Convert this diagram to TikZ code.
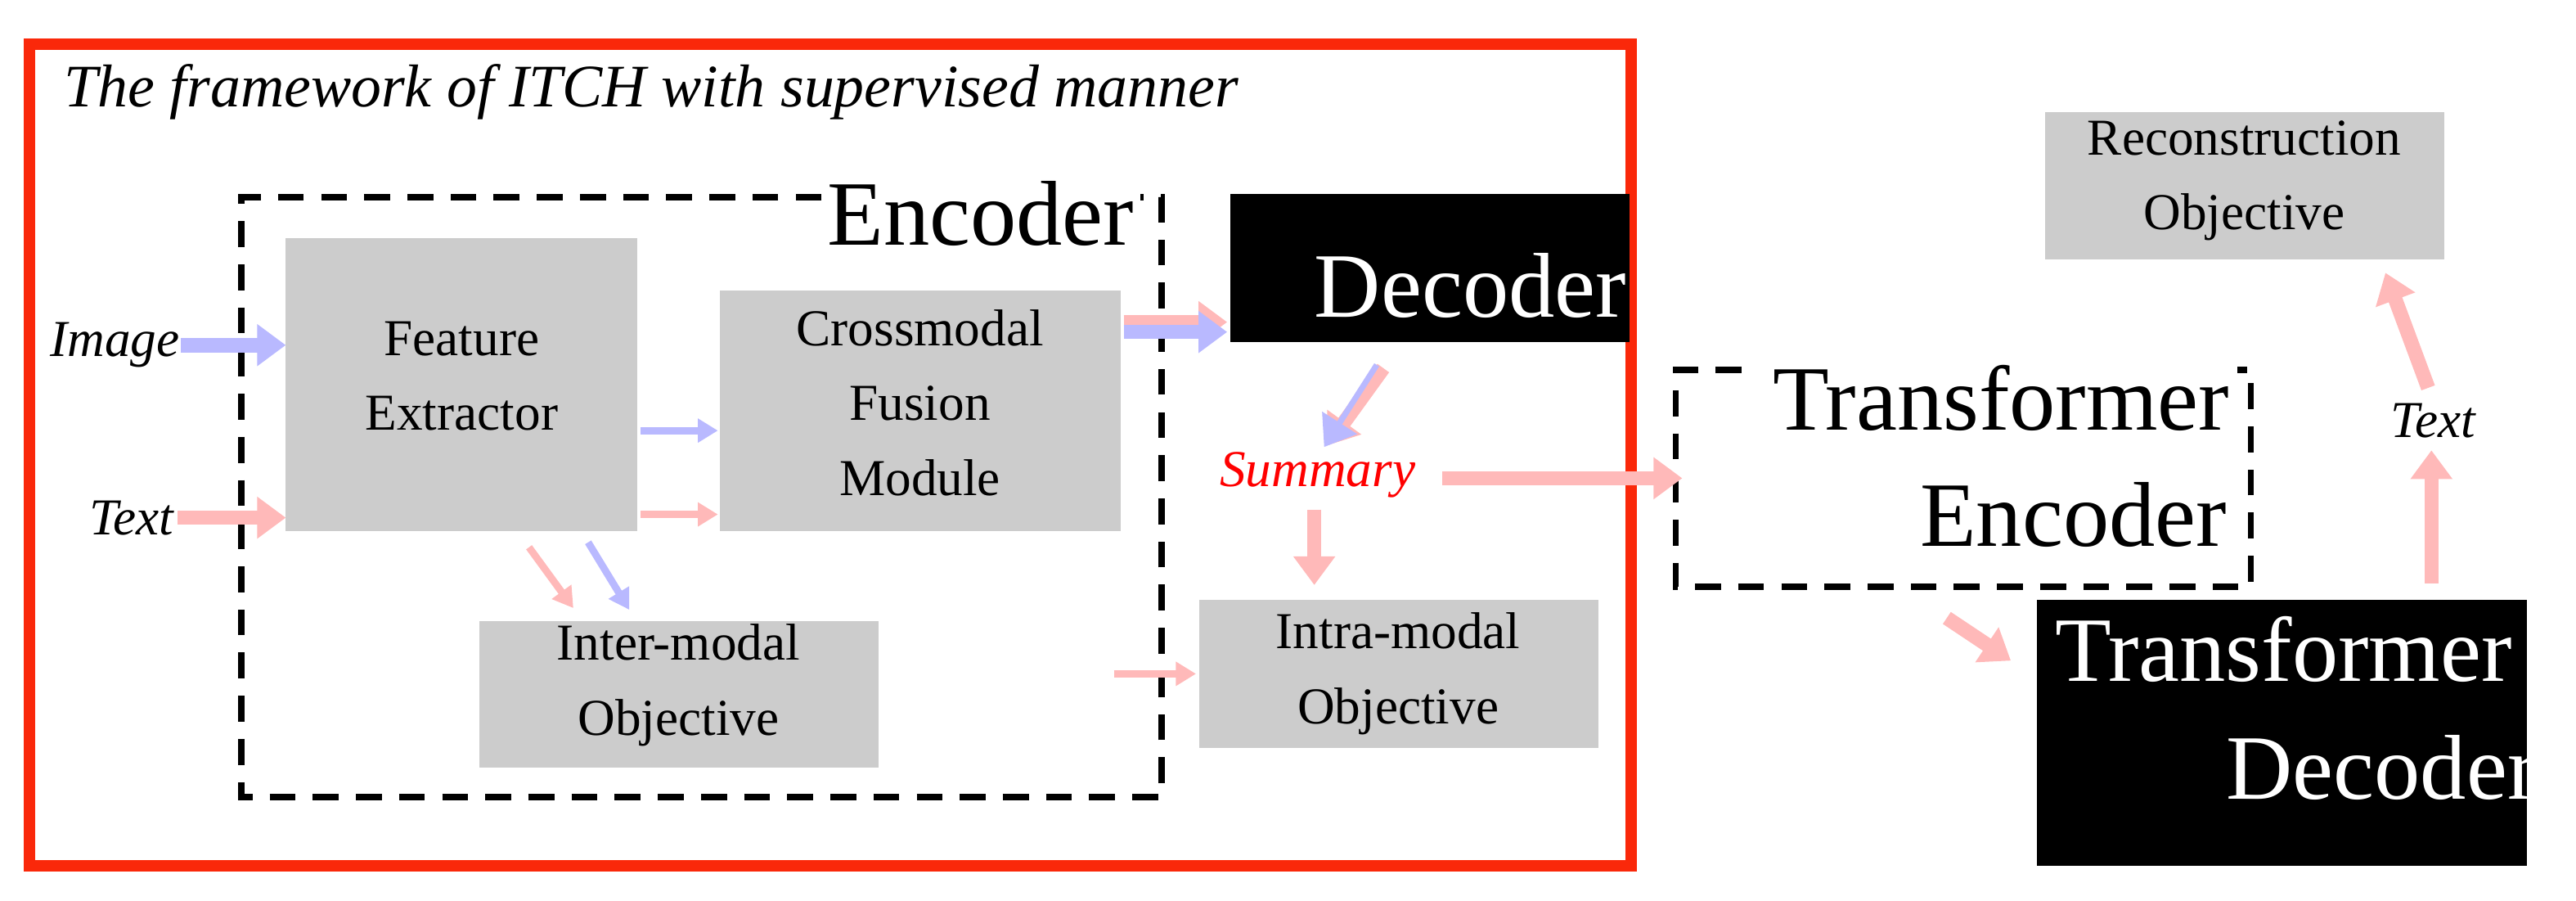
\documentclass[tikz,border=0pt]{standalone}
\usepackage{fontspec}
\setmainfont{Liberation Serif}
\usetikzlibrary{arrows.meta}
\definecolor{redbox}{RGB}{250,40,10}
\definecolor{gbox}{RGB}{204,204,204}
\definecolor{ablue}{RGB}{185,185,255}
\definecolor{apink}{RGB}{255,185,185}
\tikzset{
 gray box/.style={draw=none,align=center,font=\fontsize{18}{26}\selectfont},
 lbl/.style={font=\fontsize{18}{20}\selectfont\itshape},
 big/.style={font=\fontsize{32}{40}\selectfont},
 pa/.style={draw=apink,line width=5pt,-{Triangle[length=10pt,width=14pt]}},
 ba/.style={draw=ablue,line width=5pt,-{Triangle[length=10pt,width=14pt]}},
 pt/.style={draw=apink,line width=2.5pt,-{Triangle[length=7pt,width=8pt]}},
 bt/.style={draw=ablue,line width=2.5pt,-{Triangle[length=7pt,width=8pt]}},
 dbox/.style={draw=black,line width=2.2pt,dash pattern=on 9pt off 6pt},
}
\begin{document}
\begin{tikzpicture}[x=0.02008cm,y=-0.02008cm]
\useasboundingbox (0,0) rectangle (1568,548);
\draw[redbox,line width=4pt] (18,27) rectangle (993,527);
\node[anchor=west,font=\fontsize{21}{24}\selectfont\itshape] (title) at (33,56) {The framework of ITCH with supervised manner};
\draw[dbox] (500,120) -- (147,120) -- (147,485) -- (707,485) -- (707,120) -- (694,120);
\node[big] (enc) at (597,130) {Encoder};
\fill[gbox] (174,145) rectangle (388,323);
\node[gray box] (fe) at (281,229) {Feature\\Extractor};
\fill[gbox] (438,177) rectangle (682,323);
\node[gray box] (cfm) at (560,245) {Crossmodal\\Fusion\\Module};
\fill[gbox] (292,378) rectangle (535,467);
\node[gray box] (inter) at (413,417) {Inter-modal\\Objective};
\fill[black] (749,118) rectangle (992,208);
\node[big,text=white] (dec) at (895,174) {Decoder};
\node[lbl,text=red] (sum) at (802,289) {Summary};
\fill[gbox] (730,365) rectangle (973,455);
\node[gray box] (intra) at (851,410) {Intra-modal\\Objective};
\draw[dbox] (1060,225) -- (1020,225) -- (1020,357) -- (1370,357) -- (1370,225) -- (1362,225);
\node[big] (te1) at (1218,242) {Transformer};
\node[big] (te2) at (1262,313) {Encoder};
\fill[black] (1240,365) rectangle (1538,527);
\node[big,text=white] (td1) at (1390,395) {Transformer};
\node[big,text=white] (td2) at (1450,467) {Decoder};
\fill[gbox] (1245,68) rectangle (1488,158);
\node[gray box] (rec) at (1366,110) {Reconstruction\\Objective};
\node[lbl] (txt2) at (1481,256) {Text};
\node[lbl] (img) at (70,210) {Image};
\node[lbl] (txt) at (80,315) {Text};
\coordinate (a1) at (110,210); \coordinate (a2) at (174,210);
\coordinate (b1) at (108,315); \coordinate (b2) at (174,315);
\coordinate (c1) at (390,262); \coordinate (c2) at (437,262);
\coordinate (d1) at (390,313); \coordinate (d2) at (437,313);
\coordinate (e1) at (322,333); \coordinate (e2) at (349,370);
\coordinate (f1) at (358,330); \coordinate (f2) at (383,371);
\coordinate (g1) at (684,196); \coordinate (g2) at (747,196);
\coordinate (h1) at (684,202); \coordinate (h2) at (747,202);
\coordinate (i1) at (838,222); \coordinate (i2) at (806,272);
\coordinate (i3) at (842,224); \coordinate (i4) at (808,271);
\coordinate (j1) at (878,291); \coordinate (j2) at (1024,291);
\coordinate (k1) at (800,310); \coordinate (k2) at (800,356);
\coordinate (l1) at (678,410); \coordinate (l2) at (728,410);
\coordinate (m1) at (1185,376); \coordinate (m2) at (1224,402);
\coordinate (n1) at (1480,355); \coordinate (n2) at (1480,274);
\coordinate (o1) at (1478,236); \coordinate (o2) at (1452,166);
\draw[ba] (a1) -- (a2);
\draw[pa] (b1) -- (b2);
\draw[bt] (c1) -- (c2);
\draw[pt] (d1) -- (d2);
\draw[pt] (e1) -- (e2);
\draw[bt] (f1) -- (f2);
\draw[pa] (g1) -- (g2);
\draw[ba] (h1) -- (h2);
\draw[pa] (i3) -- (i4);
\draw[ba,line width=2pt] (i1) -- (i2);
\draw[pa] (j1) -- (j2);
\draw[pa] (k1) -- (k2);
\draw[pt] (l1) -- (l2);
\draw[pa] (m1) -- (m2);
\draw[pa] (n1) -- (n2);
\draw[pa] (o1) -- (o2);
\end{tikzpicture}
\end{document}
